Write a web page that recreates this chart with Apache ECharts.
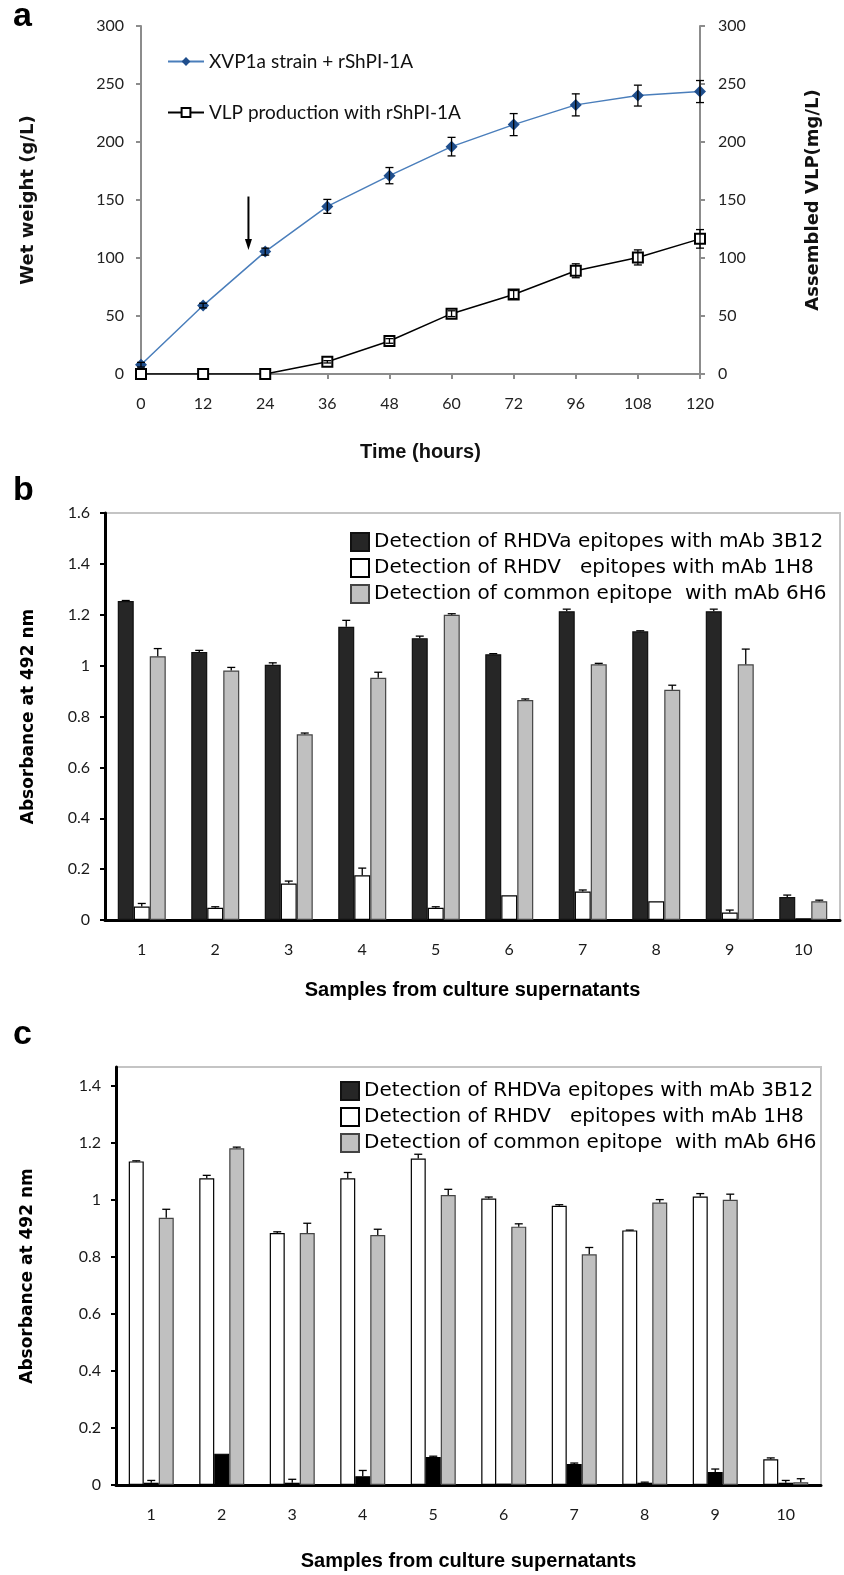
<!DOCTYPE html>
<html>
<head>
<meta charset="utf-8">
<script src="https://cdn.jsdelivr.net/npm/echarts/dist/echarts.min.js"></script>
<style>
html,body{margin:0;padding:0;background:#fff;}
#main{width:844px;height:1575px;}
</style>
</head>
<body>
<div id="main"></div>
<script>
// ---- panel a : growth curve ----
var hours = ['0', '12', '24', '36', '48', '60', '72', '96', '108', '120'];
var wetWeight = [8, 59, 105.5, 144.5, 171, 196, 215, 232, 240, 243.5];
var wetWeightErr = [2, 2, 3, 6, 7, 8, 9.5, 9.5, 9, 9.5];
var vlp = [0, 0, 0, 10.5, 28.5, 52, 68.5, 89, 100.5, 116.5];
var vlpErr = [0, 0, 0, 1, 2, 2.5, 3.5, 6, 6.5, 8];
var arrowAt = [1.73, 153, 107]; // category position, start value, end value

// ---- panel b ----
var samples = ['1', '2', '3', '4', '5', '6', '7', '8', '9', '10'];
var b3B12 = [1.254, 1.054, 1.003, 1.153, 1.108, 1.045, 1.214, 1.135, 1.214, 0.09];
var b3B12Err = [0.002, 0.006, 0.008, 0.025, 0.008, 0.002, 0.008, 0.002, 0.008, 0.008];
var b1H8 = [0.053, 0.048, 0.143, 0.176, 0.048, 0.097, 0.112, 0.074, 0.029, 0.007];
var b1H8Err = [0.012, 0.004, 0.01, 0.028, 0.004, 0, 0.006, 0, 0.01, 0];
var b6H6 = [1.037, 0.981, 0.73, 0.952, 1.2, 0.865, 1.005, 0.905, 1.005, 0.074];
var b6H6Err = [0.03, 0.012, 0.005, 0.022, 0.004, 0.004, 0.004, 0.018, 0.06, 0.004];
var ticksB = [0, 0.2, 0.4, 0.6, 0.8, 1, 1.2, 1.4, 1.6];

// ---- panel c ----
var c1H8 = [1.135, 1.076, 0.884, 1.076, 1.145, 1.005, 0.979, 0.893, 1.012, 0.09];
var c1H8Err = [0.002, 0.01, 0.004, 0.02, 0.015, 0.005, 0.004, 0.001, 0.01, 0.005];
var c3B12 = [0.008, 0.11, 0.008, 0.031, 0.098, 0.005, 0.074, 0.008, 0.046, 0.008];
var c3B12Err = [0.008, 0, 0.012, 0.02, 0.003, 0, 0.003, 0.002, 0.01, 0.008];
var c6H6 = [0.937, 1.181, 0.884, 0.877, 1.017, 0.906, 0.809, 0.991, 1.0, 0.01];
var c6H6Err = [0.03, 0.004, 0.034, 0.02, 0.02, 0.01, 0.024, 0.01, 0.02, 0.012];
var ticksC = [0, 0.2, 0.4, 0.6, 0.8, 1, 1.2, 1.4];

var nameA1 = 'XVP1a strain + rShPI-1A';
var nameA2 = 'VLP production with rShPI-1A';
var n3B12 = 'Detection of RHDVa epitopes with mAb 3B12';
var n1H8 = 'Detection of RHDV   epitopes with mAb 1H8';
var n6H6 = 'Detection of common epitope  with mAb 6H6';

var calibri = 'Lato';
var arialB = 'Liberation Sans';
var wide = 'DejaVu Sans';

var mychart = echarts.init(document.getElementById('main'));

// 误差线
function errorBars(xi, yi, vals, errs, offset, both) {
    return {
        type: 'custom', xAxisIndex: xi, yAxisIndex: yi, z: 10, silent: true,
        data: vals.map(function (v, i) { return [i, v, errs[i]]; }),
        renderItem: function (params, api) {
            var i = api.value(0), v = api.value(1), e = api.value(2);
            if (!e) return null;
            var top = api.coord([i, v + e]);
            var bot = both ? api.coord([i, v - e]) : api.coord([i, v]);
            var x = top[0] + offset, cap = 4;
            var st = {stroke: '#000', lineWidth: 1.3};
            var kids = [
                {type: 'line', shape: {x1: x, y1: top[1], x2: x, y2: bot[1]}, style: st},
                {type: 'line', shape: {x1: x - cap, y1: top[1], x2: x + cap, y2: top[1]}, style: st}
            ];
            if (both) kids.push({type: 'line', shape: {x1: x - cap, y1: bot[1], x2: x + cap, y2: bot[1]}, style: st});
            return {type: 'group', children: kids};
        }
    };
}

function bars(name, xi, yi, data, fill, border, w) {
    return {
        type: 'bar', name: name, xAxisIndex: xi, yAxisIndex: yi, data: data,
        barWidth: w, barGap: '0%',
        itemStyle: {color: fill, borderColor: border, borderWidth: 1.2}
    };
}

function absAxis(grid, max, ticks, gap) {
    return {
        type: 'value', gridIndex: grid, min: 0, max: max,
        axisLine: {show: true, lineStyle: {color: '#000', width: 3}},
        axisTick: {show: true, length: 5, customValues: ticks, lineStyle: {color: '#000', width: 2}},
        axisLabel: {customValues: ticks, margin: 15, fontFamily: calibri, fontSize: 16, color: '#1a1a1a'},
        splitLine: {show: false},
        name: 'Absorbance at 492 nm', nameLocation: 'middle', nameRotate: 90, nameGap: gap,
        nameTextStyle: {fontFamily: wide, fontWeight: 'bold', fontSize: 17, color: '#000'}
    };
}

function sampleAxis(grid, gap) {
    return {
        type: 'category', gridIndex: grid, data: samples,
        axisLine: {lineStyle: {color: '#000', width: 3}},
        axisTick: {length: 6, interval: 0, lineStyle: {color: '#000', width: 2}},
        axisLabel: {margin: 22, fontFamily: calibri, fontSize: 16, color: '#1a1a1a'},
        name: 'Samples from culture supernatants', nameLocation: 'middle', nameGap: gap,
        nameTextStyle: {fontFamily: arialB, fontWeight: 'bold', fontSize: 20, color: '#000'}
    };
}

var gray = '#8c8c8c';
var option = {
    backgroundColor: '#fff',
    animation: false,
    grid: [
        {left: 141, top: 26, width: 559, height: 348},
        {left: 105, top: 513, width: 735, height: 407, show: true, borderColor: '#c4c4c4', borderWidth: 2},
        {left: 116, top: 1067, width: 705, height: 418, show: true, borderColor: '#c4c4c4', borderWidth: 2}
    ],
    legend: [
        {
            data: [nameA1, nameA2], orient: 'vertical', left: 162, top: 47,
            itemWidth: 36, itemHeight: 11, itemGap: 32,
            textStyle: {fontFamily: calibri, fontSize: 19, color: '#111'}
        },
        {
            data: [n3B12, n1H8, n6H6], orient: 'vertical', left: 345, top: 527,
            itemWidth: 18, itemHeight: 18, itemGap: 6, icon: 'rect',
            textStyle: {fontFamily: wide, fontSize: 20, color: '#000'}
        },
        {
            data: [n3B12, n1H8, n6H6], orient: 'vertical', left: 335, top: 1076,
            itemWidth: 18, itemHeight: 18, itemGap: 6, icon: 'rect',
            textStyle: {fontFamily: wide, fontSize: 20, color: '#000'}
        }
    ],
    xAxis: [
        {
            type: 'category', gridIndex: 0, data: hours, boundaryGap: false,
            axisLine: {lineStyle: {color: gray, width: 2}},
            axisTick: {length: 5, interval: 0, lineStyle: {color: gray, width: 2}},
            axisLabel: {margin: 22, fontFamily: calibri, fontSize: 16, color: '#222'},
            name: 'Time (hours)', nameLocation: 'middle', nameGap: 68,
            nameTextStyle: {fontFamily: arialB, fontWeight: 'bold', fontSize: 20, color: '#111'}
        },
        sampleAxis(1, 60),
        sampleAxis(2, 66)
    ],
    yAxis: [
        {
            type: 'value', gridIndex: 0, min: 0, max: 300, interval: 50,
            axisLine: {show: true, lineStyle: {color: gray, width: 2}},
            axisTick: {show: true, length: 5, lineStyle: {color: gray, width: 2}},
            axisLabel: {margin: 17, fontFamily: calibri, fontSize: 16, color: '#222'},
            splitLine: {show: false},
            name: 'Wet weight (g/L)', nameLocation: 'middle', nameRotate: 90, nameGap: 104,
            nameTextStyle: {fontFamily: wide, fontWeight: 'bold', fontSize: 18, color: '#111'}
        },
        {
            type: 'value', gridIndex: 0, min: 0, max: 300, interval: 50, position: 'right',
            axisLine: {show: true, lineStyle: {color: gray, width: 2}},
            axisTick: {show: true, length: 5, lineStyle: {color: gray, width: 2}},
            axisLabel: {margin: 18, fontFamily: calibri, fontSize: 16, color: '#222'},
            splitLine: {show: false},
            name: 'Assembled VLP(mg/L)', nameLocation: 'middle', nameRotate: 90, nameGap: 104,
            nameTextStyle: {fontFamily: wide, fontWeight: 'bold', fontSize: 18, color: '#111'}
        },
        absAxis(1, 1.6, ticksB, 68),
        absAxis(2, 1.466, ticksC, 80)
    ],
    series: [
        {
            type: 'line', name: nameA1, xAxisIndex: 0, yAxisIndex: 0, data: wetWeight,
            symbol: 'diamond', symbolSize: 12,
            lineStyle: {color: '#4a7ebb', width: 1.5},
            itemStyle: {color: '#1f4e8c'}
        },
        {
            type: 'line', name: nameA2, xAxisIndex: 0, yAxisIndex: 1, data: vlp,
            symbol: 'emptyRect', symbolSize: 10,
            lineStyle: {color: '#000', width: 1.5},
            itemStyle: {color: '#000', borderWidth: 1.5}
        },
        errorBars(0, 0, wetWeight, wetWeightErr, 0, true),
        errorBars(0, 1, vlp, vlpErr, 0, true),

        bars(n3B12, 1, 2, b3B12, '#262626', '#111', 16),
        bars(n1H8, 1, 2, b1H8, '#ffffff', '#000', 16),
        bars(n6H6, 1, 2, b6H6, '#c0c0c0', '#444', 16),
        errorBars(1, 2, b3B12, b3B12Err, -16, false),
        errorBars(1, 2, b1H8, b1H8Err, 0, false),
        errorBars(1, 2, b6H6, b6H6Err, 16, false),

        bars(n1H8, 2, 3, c1H8, '#ffffff', '#000', 15),
        bars(n3B12, 2, 3, c3B12, '#000000', '#000', 15),
        bars(n6H6, 2, 3, c6H6, '#c0c0c0', '#444', 15),
        errorBars(2, 3, c1H8, c1H8Err, -15, false),
        errorBars(2, 3, c3B12, c3B12Err, 0, false),
        errorBars(2, 3, c6H6, c6H6Err, 15, false)
    ]
};
mychart.setOption(option);

// 箭头 & 面板字母
var pA = mychart.convertToPixel({xAxisIndex: 0, yAxisIndex: 0}, [Math.floor(arrowAt[0]), arrowAt[1]]);
var pB = mychart.convertToPixel({xAxisIndex: 0, yAxisIndex: 0}, [Math.ceil(arrowAt[0]), arrowAt[2]]);
var frac = arrowAt[0] - Math.floor(arrowAt[0]);
var ax = pA[0] + (pB[0] - pA[0]) * frac;
var letter = function (t, x, y) {
    return {type: 'text', x: x, y: y, style: {text: t, fontFamily: arialB, fontWeight: 'bold', fontSize: 34, fill: '#000'}};
};
mychart.setOption({
    graphic: [
        letter('a', 13, 0),
        letter('b', 13, 474),
        letter('c', 13, 1018),
        {type: 'line', shape: {x1: ax, y1: pA[1], x2: ax, y2: pB[1] - 8}, style: {stroke: '#000', lineWidth: 2}},
        {type: 'polygon', shape: {points: [[ax - 3.5, pB[1] - 11], [ax + 3.5, pB[1] - 11], [ax, pB[1]]]}, style: {fill: '#000'}}
    ]
});
</script>
</body>
</html>
